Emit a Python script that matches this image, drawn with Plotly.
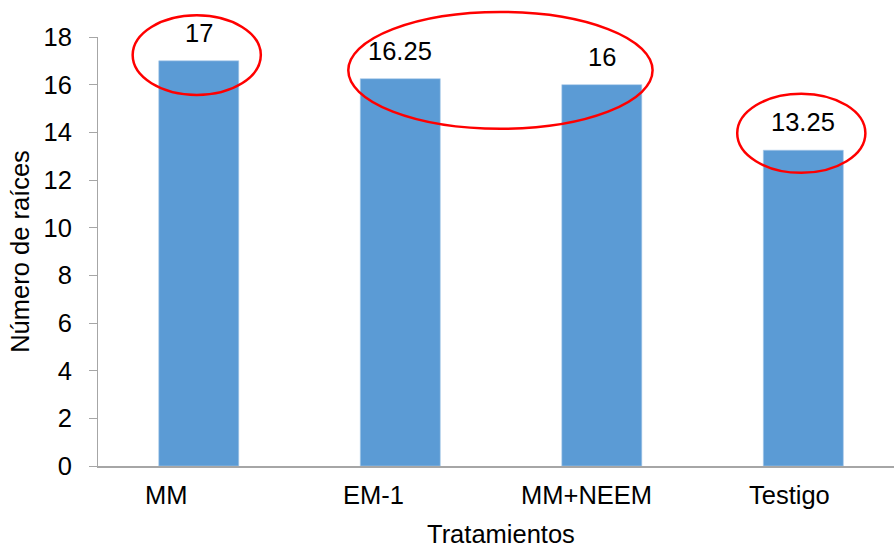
import plotly.graph_objects as go

# Number of roots per treatment
categories = ["MM", "EM-1", "MM+NEEM", "Testigo"]
values = [17, 16.25, 16, 13.25]
y_ticks = [0, 2, 4, 6, 8, 10, 12, 14, 16, 18]

FONT = "Liberation Sans, Arial, sans-serif"
FONT_SIZE = 25.5
BAR_COLOR = "#5B9BD5"
AXIS_COLOR = "#A6A6A6"

x_pos = list(range(len(categories)))
x_range = [-0.5, 3.45]
y_range = [0, 18]

fig = go.Figure()
fig.add_trace(go.Bar(
    x=x_pos,
    y=values,
    width=0.397,
    marker=dict(color=BAR_COLOR, line=dict(color="#A9C9EA", width=0.6)),
    hoverinfo="skip",
))

annotations = []
# value labels above each bar
for xi, v in zip(x_pos, values):
    annotations.append(dict(
        x=xi, y=v, xref="x", yref="y", text=f"{v:g}",
        showarrow=False, yanchor="middle", yshift=28,
        font=dict(family=FONT, size=FONT_SIZE, color="black"),
    ))

# category labels below the axis (slightly left of each bar, as laid out)
label_shift = [-33, -27, -15, -14]
for xi, cat, dx in zip(x_pos, categories, label_shift):
    annotations.append(dict(
        x=xi, y=0, xref="x", yref="paper", text=cat,
        showarrow=False, yanchor="middle", yshift=-29, xshift=dx,
        font=dict(family=FONT, size=FONT_SIZE, color="black"),
    ))

# x-axis title
annotations.append(dict(
    x=1.5, y=0, xref="x", yref="paper", text="Tratamientos",
    showarrow=False, yanchor="middle", yshift=-68,
    font=dict(family=FONT, size=FONT_SIZE, color="black"),
))


def to_paper_x(v):
    return (v - x_range[0]) / (x_range[1] - x_range[0])


def to_paper_y(v):
    return (v - y_range[0]) / (y_range[1] - y_range[0])


# red ellipses highlighting groups: (x centre, y centre, x radius, y radius) in data units
ellipses = [
    (-0.01, 17.24, 0.318, 1.67),
    (1.497, 16.6, 0.755, 2.45),
    (2.99, 13.96, 0.318, 1.66),
]
shapes = []
for cx, cy, rx, ry in ellipses:
    shapes.append(dict(
        type="circle", xref="paper", yref="paper",
        x0=to_paper_x(cx - rx), x1=to_paper_x(cx + rx),
        y0=to_paper_y(cy - ry), y1=to_paper_y(cy + ry),
        line=dict(color="#FF0000", width=2.5),
        fillcolor="rgba(0,0,0,0)",
        layer="above",
    ))

fig.update_layout(
    width=894,
    height=547,
    margin=dict(l=98, r=0, t=37, b=81),
    paper_bgcolor="white",
    plot_bgcolor="white",
    showlegend=False,
    font=dict(family=FONT, size=FONT_SIZE, color="black"),
    annotations=annotations,
    shapes=shapes,
    xaxis=dict(
        range=x_range,
        showticklabels=False,
        ticks="",
        showgrid=False,
        zeroline=False,
        showline=True,
        linecolor=AXIS_COLOR,
        linewidth=1.5,
        fixedrange=True,
    ),
    yaxis=dict(
        range=y_range,
        tickvals=y_ticks,
        ticks="outside",
        ticklen=8,
        tickcolor=AXIS_COLOR,
        tickwidth=1,
        showgrid=False,
        zeroline=False,
        showline=True,
        linecolor=AXIS_COLOR,
        linewidth=1,
        ticklabelstandoff=12,
        tickfont=dict(family=FONT, size=FONT_SIZE, color="black"),
        title=dict(text="Número de raíces", standoff=6,
                   font=dict(family=FONT, size=FONT_SIZE, color="black")),
        fixedrange=True,
    ),
)

fig.write_html("out.html", config={"displayModeBar": False})
